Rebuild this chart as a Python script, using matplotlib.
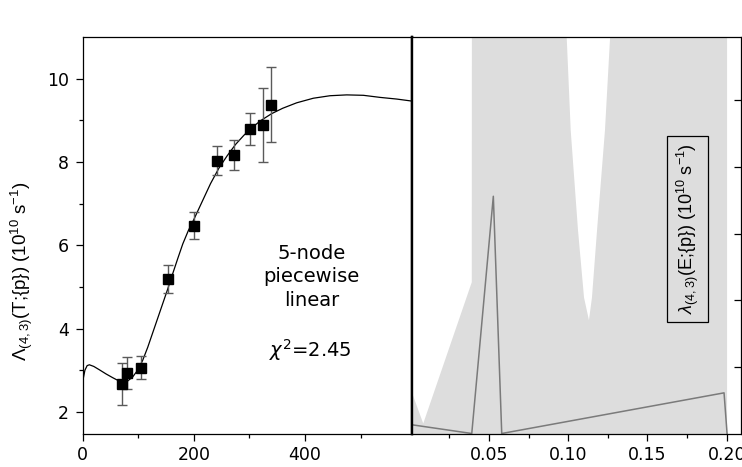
import matplotlib
matplotlib.use("Agg")
import matplotlib.pyplot as plt

plt.rcParams['font.family'] = ['DejaVu Sans']
plt.rcParams['mathtext.fontset'] = 'custom'
plt.rcParams['mathtext.rm'] = 'Liberation Sans'
plt.rcParams['mathtext.it'] = 'Liberation Sans:italic'
plt.rcParams['mathtext.bf'] = 'Liberation Sans:bold'

# ---- left panel data ----
T_data = [70, 79, 104, 153, 201, 241, 273, 301, 325, 338]
L_data = [2.67, 2.94, 3.06, 5.19, 6.47, 8.03, 8.17, 8.79, 8.88, 9.37]
L_err = [0.50, 0.38, 0.28, 0.33, 0.33, 0.35, 0.36, 0.39, 0.89, 0.90]

T_fit = [0, 4, 8, 12, 20, 30, 42, 54, 64, 72, 80, 90, 100, 108, 117, 126, 135,
         144, 153, 162, 171, 180, 190, 200, 215, 230, 245, 260, 275, 290, 305,
         320, 340, 360, 385, 415, 445, 475, 505, 535, 565, 593]
L_fit = [2.73, 3.00, 3.11, 3.13, 3.09, 3.01, 2.91, 2.82, 2.75, 2.71, 2.73, 2.84,
         3.02, 3.24, 3.55, 3.90, 4.25, 4.60, 4.95, 5.32, 5.68, 6.03, 6.35, 6.62,
         7.05, 7.48, 7.85, 8.15, 8.42, 8.64, 8.83, 8.99, 9.16, 9.29, 9.42, 9.53,
         9.59, 9.61, 9.60, 9.55, 9.51, 9.46]

# ---- right panel data ----
E_band = [0.0017, 0.0086, 0.0392, 0.0393, 0.0970, 0.0991, 0.1016, 0.1062, 0.1100,
          0.1131, 0.1150, 0.1182, 0.1232, 0.1264, 0.1285, 0.2002]
band_upper = [0.60, 0.15, 2.27, 8.0, 7.0, 5.93, 4.55, 3.05, 2.04, 1.70, 2.04,
              3.05, 4.55, 5.93, 7.0, 8.0]
E_line = [0.0017, 0.0392, 0.0528, 0.0581, 0.1983, 0.2002]
lam_line = [0.13, 0.0, 3.56, 0.0, 0.61, 0.0]

left_xticks = [0, 200, 400]
left_yticks = [2, 4, 6, 8, 10]
right_xticks = [0.05, 0.10, 0.15, 0.20]
right_xticklabels = ['0.05', '0.10', '0.15', '0.20']

W, H = 742, 467
fig = plt.figure(figsize=(W / 100, H / 100), dpi=100)

axL = fig.add_axes([82.7 / W, 1 - 433.5 / H, (412.3 - 82.7) / W, (433.5 - 37) / H])
axR = fig.add_axes([412.3 / W, 1 - 433.5 / H, (740.7 - 412.3) / W, (433.5 - 37) / H])

TICK_FS = 12.5

# left panel
axL.plot(T_fit, L_fit, color='black', lw=0.9, zorder=2)
axL.errorbar(T_data, L_data, yerr=L_err, fmt='s', color='black', ms=7.5,
             ecolor='#5a5a5a', elinewidth=1.0, capsize=3.6, capthick=1.0, zorder=3)
axL.set_xlim(0, 593)
axL.set_ylim(1.48, 11.0)
axL.set_xticks(left_xticks)
axL.set_xticks([100, 300, 500], minor=True)
axL.set_yticks(left_yticks)
axL.set_yticks([3, 5, 7, 9], minor=True)
axL.tick_params(which='major', direction='out', length=4.7, width=0.9,
                labelsize=TICK_FS, pad=5)
axL.tick_params(which='minor', direction='out', length=3.2, width=0.9)
axL.tick_params(axis='x', pad=4)
axL.spines['right'].set_linewidth(1.7)
for s in ['left', 'top', 'bottom']:
    axL.spines[s].set_linewidth(0.9)

axL.text(412, 5.24, '5-node\npiecewise\nlinear', ha='center', va='center',
         fontsize=14, linespacing=1.28)
axL.text(409, 3.49, r'$\chi^2$=2.45', ha='center', va='center', fontsize=14,
         math_fontfamily='dejavusans')

fig.text(22 / W, 1 - 271 / H, r'$\mathit{\Lambda}_{(4,3)}$(T;{p}) (10$^{10}$ s$^{-1}$)',
         rotation=90, ha='center', va='center', fontsize=13.5,
         family='Liberation Sans', math_fontfamily='custom')

# right panel
axR.fill_between(E_band, -1, band_upper, color='#dddddd', lw=0, zorder=1)
axR.plot(E_line, lam_line, color='#7a7a7a', lw=1.1, zorder=2)
axR.set_xlim(0.0017, 0.2088)
axR.set_ylim(0, 5.95)
axR.set_xticks(right_xticks)
axR.set_xticklabels(right_xticklabels)
axR.set_xticks([0.025, 0.075, 0.125, 0.175], minor=True)
axR.yaxis.tick_right()
axR.set_yticks([1, 2, 3, 4, 5])
axR.tick_params(axis='y', which='both', direction='in', length=5, width=0.9,
                labelright=False, left=False)
axR.tick_params(axis='x', which='major', direction='out', length=4.7, width=0.9,
                labelsize=TICK_FS, pad=4)
axR.tick_params(axis='x', which='minor', direction='out', length=3.2, width=0.9)
axR.spines['left'].set_linewidth(1.7)
for s in ['right', 'top', 'bottom']:
    axR.spines[s].set_linewidth(0.9)

axR.text(0.1753, 3.07, r'$\lambda_{(4,3)}$(E;{p}) (10$^{10}$ s$^{-1}$)',
         rotation=90, ha='center', va='center', fontsize=13,
         family='Liberation Sans', math_fontfamily='custom',
         bbox=dict(boxstyle='square,pad=0.4', fc='none', ec='black', lw=0.9))

fig.savefig('out.png', dpi=100)
